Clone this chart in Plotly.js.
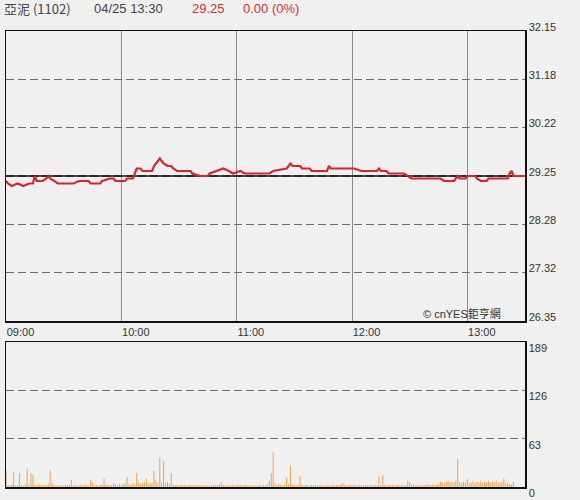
<!DOCTYPE html>
<html>
<head>
<meta charset="utf-8">
<script src="https://cdn.plot.ly/plotly-3.0.1.min.js"></script>
<style>
html,body{margin:0;padding:0;background:#f0f0f0;}
#chart{width:580px;height:500px;}
</style>
</head>
<body>
<div id="chart"></div>
<script>
// ---- data ----
var stockName = "亞泥 (1102)";
var stamp = "04/25 13:30";
var lastPrice = "29.25";
var change = "0.00 (0%)";
var prevClose = 29.25;

var priceTimes = ["09:00","09:01","09:03","09:06","09:09","09:12","09:14","09:15","09:16","09:19",
  "09:21","09:22","09:23","09:25","09:27","09:35","09:38","09:43","09:44","09:49",
  "09:50","09:54","09:56","09:57","10:02","10:03","10:06","10:07","10:08","10:10",
  "10:11","10:16","10:17","10:19","10:20","10:21","10:22","10:24","10:26","10:27",
  "10:29","10:36","10:37","10:41","10:45","10:46","10:50","10:53","10:56","10:58",
  "11:02","11:04","11:17","11:19","11:26","11:27","11:28","11:29","11:33","11:34",
  "11:38","11:39","11:47","11:48","11:49","12:01","12:05","12:13","12:14","12:15",
  "12:18","12:19","12:27","12:29","12:31","12:46","12:48","12:53","12:54","12:55",
  "12:56","12:59","13:00","13:04","13:05","13:07","13:10","13:11","13:21","13:22",
  "13:23","13:24","13:30"];
var prices = [29.15,29.10,29.05,29.10,29.05,29.10,29.10,29.25,29.15,29.15,
  29.20,29.25,29.20,29.15,29.10,29.10,29.15,29.15,29.10,29.10,
  29.15,29.20,29.20,29.15,29.15,29.20,29.20,29.30,29.40,29.40,
  29.35,29.35,29.45,29.55,29.60,29.55,29.50,29.45,29.45,29.40,
  29.35,29.35,29.30,29.25,29.25,29.30,29.35,29.40,29.35,29.30,
  29.35,29.30,29.30,29.35,29.40,29.45,29.50,29.45,29.45,29.40,
  29.40,29.35,29.35,29.45,29.40,29.40,29.35,29.35,29.40,29.35,
  29.35,29.30,29.30,29.25,29.20,29.20,29.15,29.15,29.20,29.25,
  29.20,29.20,29.25,29.25,29.20,29.15,29.15,29.20,29.20,29.30,
  29.35,29.25,29.25];

// one volume value per minute, 09:00 .. 13:30
var volumes = [22,3,2,4,19,2,3,18,3,2,
  4,24,3,18,16,3,2,4,2,3,
  2,3,4,22,5,3,2,2,3,2,
  2,3,2,3,9,2,3,2,2,3,
  2,3,3,2,9,6,2,3,2,3,
  3,11,3,4,2,3,5,3,2,4,
  3,4,5,13,4,3,5,4,18,6,
  4,5,6,11,4,5,6,21,8,5,
  38,6,34,5,7,4,18,3,2,3,
  2,3,2,3,2,2,3,2,2,3,
  2,2,3,2,3,2,2,2,3,2,
  3,4,7,3,2,3,2,2,3,2,
  2,3,2,2,3,2,2,2,3,2,
  2,2,3,2,3,2,4,8,18,45,
  5,3,4,3,2,4,12,4,28,3,
  3,2,3,14,3,2,3,2,2,3,
  2,3,2,2,3,2,2,3,2,2,
  3,2,3,2,3,5,3,2,2,3,
  2,3,2,2,3,2,2,3,2,2,
  3,2,3,2,14,3,16,3,2,3,
  2,3,2,2,3,2,3,2,3,8,
  6,3,4,2,3,2,3,2,3,4,
  3,2,3,2,3,4,7,6,5,7,
  8,6,7,5,8,37,6,5,7,6,
  10,5,6,8,5,7,6,8,6,7,
  6,8,5,7,6,8,5,6,7,11,
  5,6,4,3,7,0,0,0,0,0,
  0];

var xTickLabels = ["09:00","10:00","11:00","12:00","13:00"];
var priceTickLabels = ["32.15","31.18","30.22","29.25","28.28","27.32","26.35"];
var volTickLabels = ["189","126","63","0"];
var sessionStart = "09:00";
var sessionEnd = "13:30";
var watermark = "© cnYES鉅亨網";

// ---- helpers ----
var toMinBase = 0;
function toMin(s){ var p = s.split(":"); return (+p[0])*60 + (+p[1]) - toMinBase; }
toMinBase = toMin(sessionStart);

var px = priceTimes.map(toMin);
var vx = volumes.map(function(v,i){ return i; });
var xEnd = toMin(sessionEnd);

var priceTickVals = priceTickLabels.map(Number);
var volTickVals = volTickLabels.map(Number);

var traces = [
  {type:'bar', x:vx, y:volumes, xaxis:'x2', yaxis:'y2',
   marker:{color:'#f3a552', line:{width:0}}, hoverinfo:'skip'},
  {type:'scatter', mode:'lines', x:[0,xEnd], y:[prevClose,prevClose], xaxis:'x', yaxis:'y',
   line:{color:'#111', width:1.5}, hoverinfo:'skip'},
  {type:'scatter', mode:'lines', x:px, y:prices, xaxis:'x', yaxis:'y',
   line:{color:'#d4262b', width:2.2}, hoverinfo:'skip'}
];

var axisFont = {family:'Liberation Sans, Arial, sans-serif', size:11, color:'#333'};
var W = 519, H = 456; // plot area in px
function ppx(x){ return (x-6)/W; }
function ppy(y){ return (487-y)/H; }

var layout = {
  width:580, height:500,
  paper_bgcolor:'#f0f0f0', plot_bgcolor:'#f0f0f0',
  margin:{l:6, r:55, t:31, b:13},
  showlegend:false,
  bargap:0.45,
  font:axisFont,
  xaxis:{domain:[0,1], range:[0,xEnd], anchor:'y',
    tickvals:xTickLabels.map(toMin), ticktext:xTickLabels,
    ticklabelposition:'outside right', ticks:'',
    showgrid:true, gridcolor:'#8a8a8a', gridwidth:1,
    showline:true, mirror:true, linecolor:'#111', linewidth:1.5,
    zeroline:false, tickfont:axisFont},
  yaxis:{domain:[ppy(321),1], range:[26.35,32.15], anchor:'x', side:'right',
    tickvals:priceTickVals, ticktext:priceTickLabels, ticks:'',
    ticklabelshift:-4,
    showgrid:true, gridcolor:'#6e6e6e', gridwidth:1.2, griddash:'8px,4px',
    showline:true, mirror:true, linecolor:'#111', linewidth:1.5,
    zeroline:false, tickfont:axisFont},
  xaxis2:{domain:[0,1], range:[0,xEnd], anchor:'y2',
    showticklabels:false, ticks:'', showgrid:false,
    showline:true, mirror:true, linecolor:'#111', linewidth:1.5, zeroline:false},
  yaxis2:{domain:[0,ppy(342)], range:[0,189], anchor:'x2', side:'right',
    tickvals:volTickVals, ticktext:volTickLabels, ticks:'',
    ticklabelshift:6,
    showgrid:true, gridcolor:'#6e6e6e', gridwidth:1.2, griddash:'8px,4px',
    showline:true, mirror:true, linecolor:'#111', linewidth:1.5,
    zeroline:false, tickfont:axisFont},
  annotations:[
    {xref:'paper', yref:'paper', x:ppx(2), y:ppy(9), xanchor:'left', yanchor:'middle',
     text:stockName, showarrow:false,
     font:{family:'Noto Sans CJK TC, Liberation Sans, sans-serif', size:13, color:'#444'}},
    {xref:'paper', yref:'paper', x:ppx(92), y:ppy(9), xanchor:'left', yanchor:'middle',
     text:stamp, showarrow:false,
     font:{family:'Liberation Sans, Arial, sans-serif', size:13, color:'#444'}},
    {xref:'paper', yref:'paper', x:ppx(190), y:ppy(9), xanchor:'left', yanchor:'middle',
     text:lastPrice, showarrow:false,
     font:{family:'Liberation Sans, Arial, sans-serif', size:13, color:'#d0312d'}},
    {xref:'paper', yref:'paper', x:ppx(241), y:ppy(9), xanchor:'left', yanchor:'middle',
     text:change, showarrow:false,
     font:{family:'Liberation Sans, Arial, sans-serif', size:13, color:'#d0312d'}},
    {xref:'paper', yref:'paper', x:ppx(421), y:ppy(313), xanchor:'left', yanchor:'middle',
     text:watermark, showarrow:false,
     font:{family:'Liberation Sans, Noto Sans CJK TC, sans-serif', size:11, color:'#333'}}
  ]
};

Plotly.newPlot('chart', traces, layout, {staticPlot:true, displayModeBar:false});
</script>
</body>
</html>
